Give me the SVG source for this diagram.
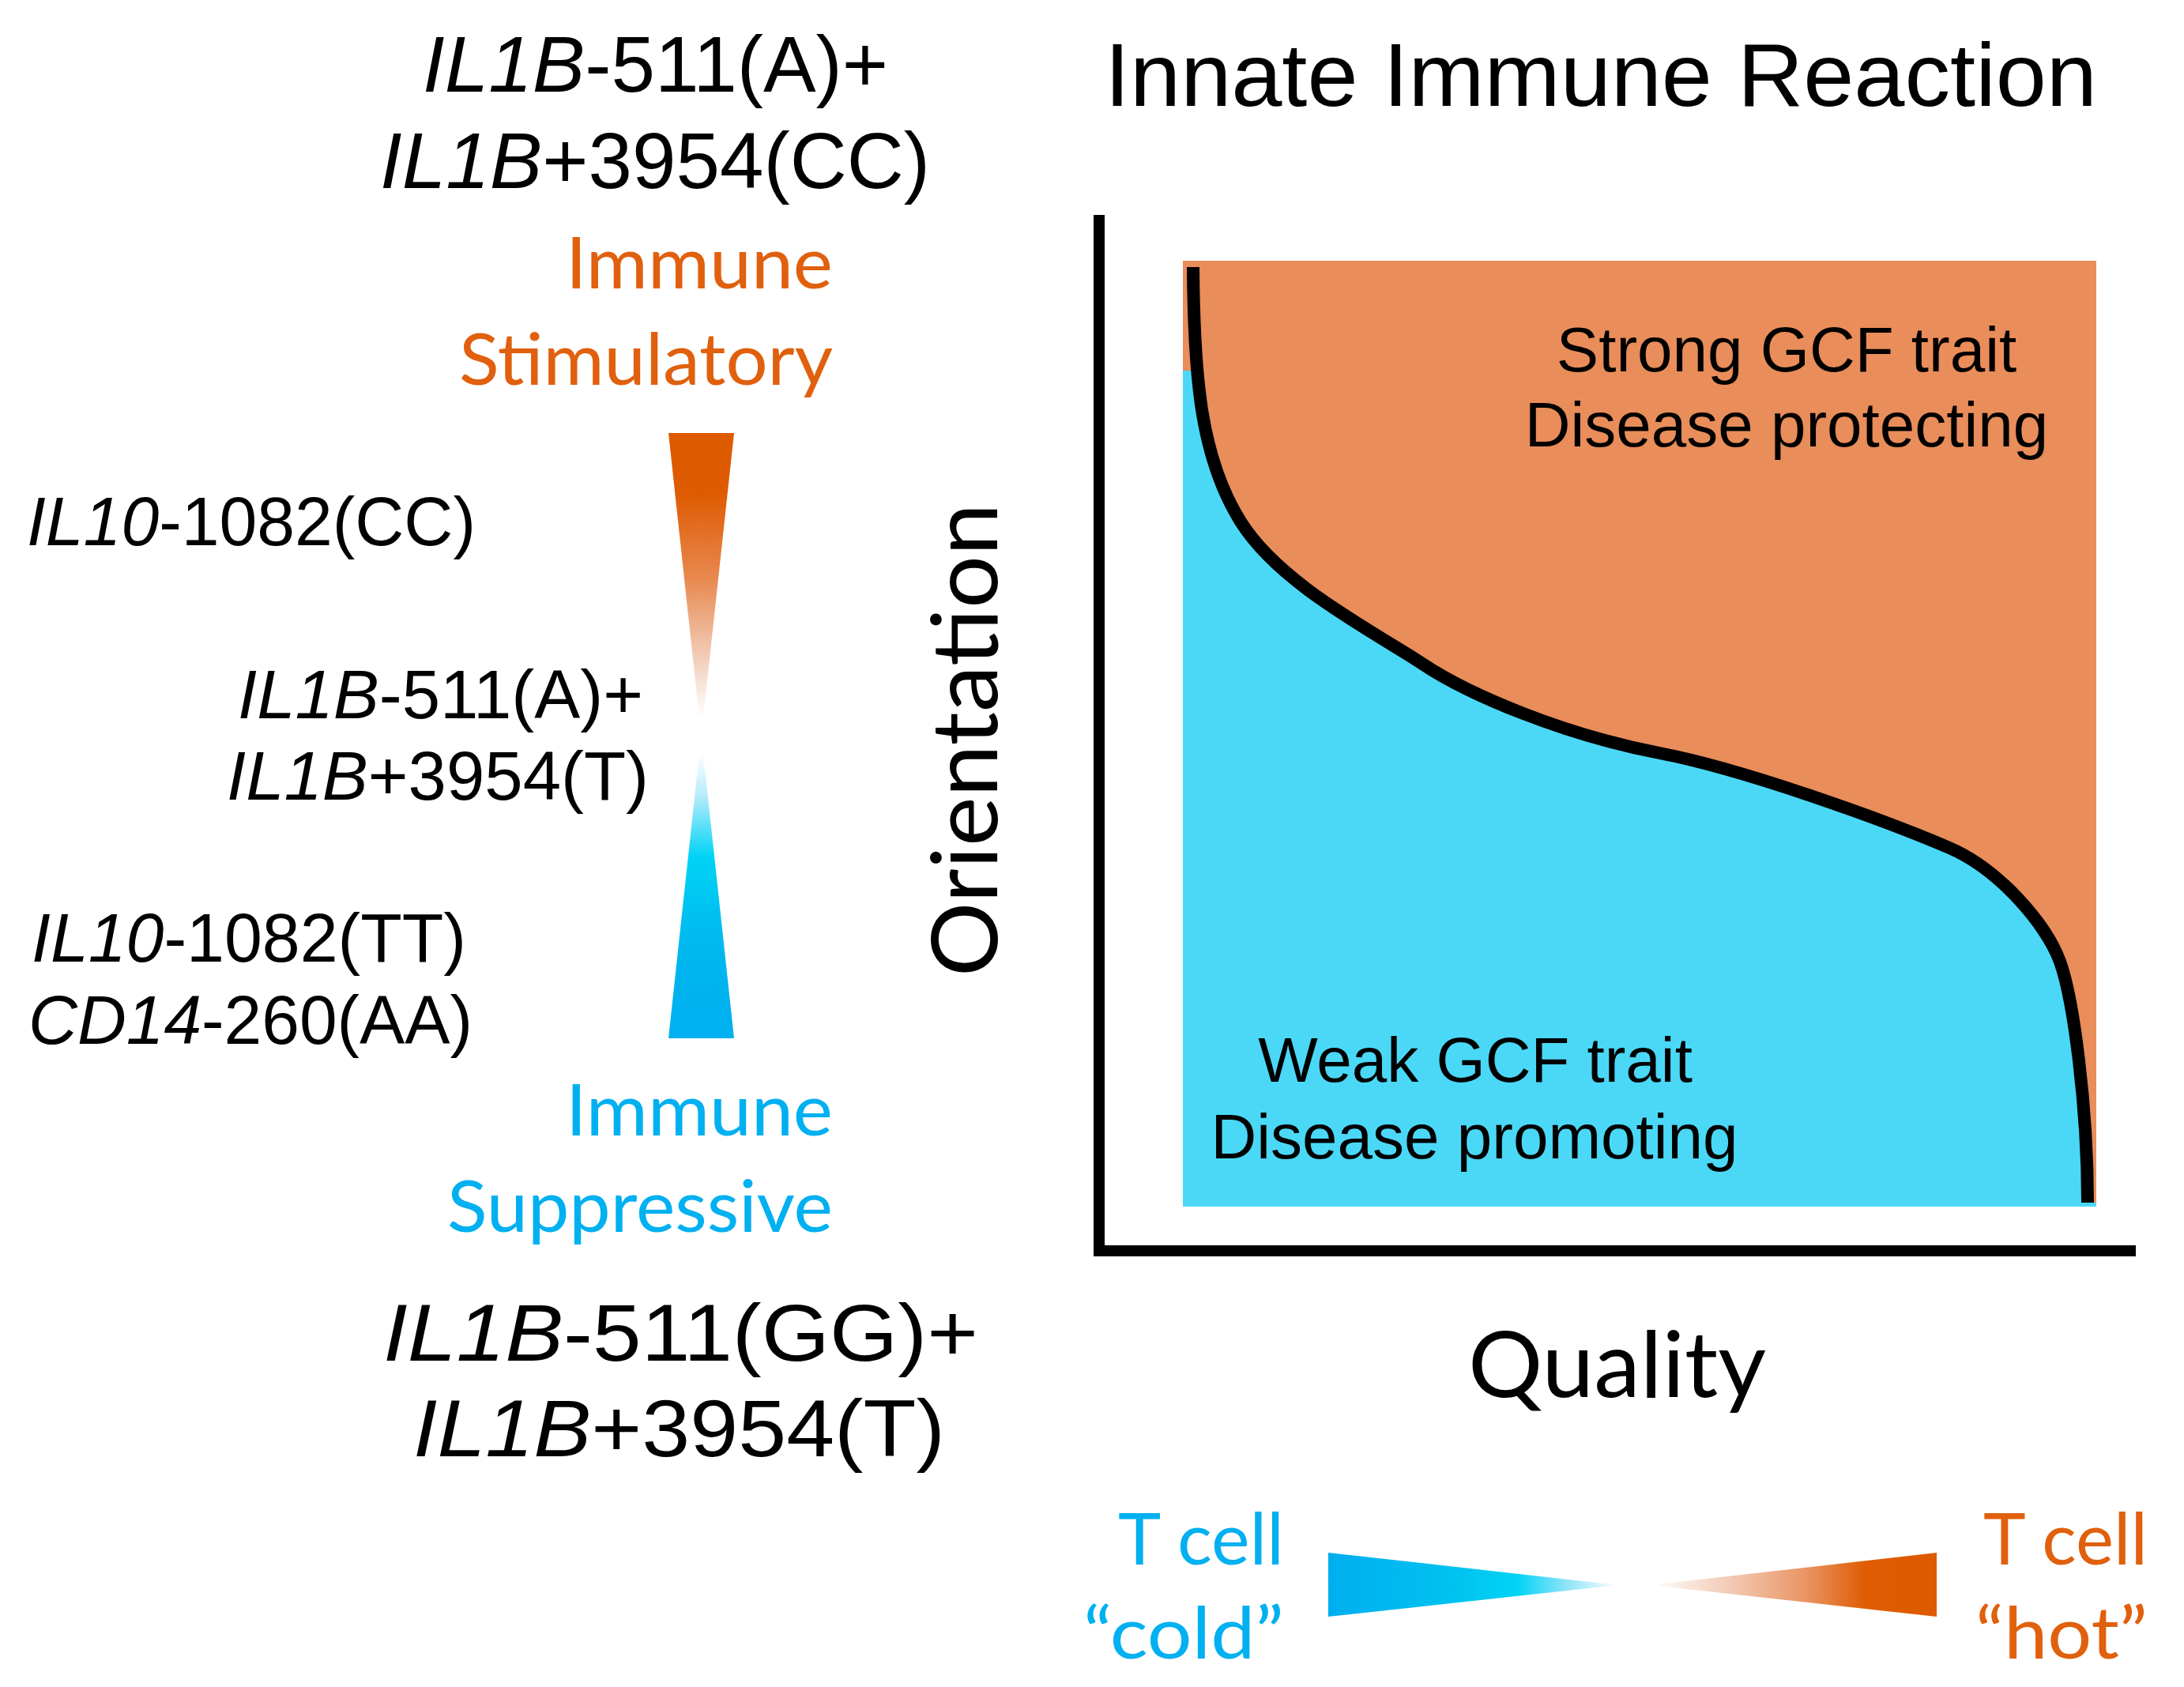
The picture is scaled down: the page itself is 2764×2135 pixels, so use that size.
<svg xmlns="http://www.w3.org/2000/svg" width="2764" height="2135" viewBox="0 0 2764 2135">
<style>
.ar{font-family:"Liberation Sans",Arial,sans-serif;fill:#000}
.it{font-style:italic}
.cb{font-family:Lato,"Open Sans",sans-serif}
.or{fill:#E0600E}
.bl{fill:#00B0F0}
.bk{fill:#000}
</style>
<defs>
<linearGradient id="gv" gradientUnits="userSpaceOnUse" x1="0" y1="548" x2="0" y2="1314">
<stop offset="0" stop-color="#DE5A00"/>
<stop offset="0.10" stop-color="#DF5B02"/>
<stop offset="0.24" stop-color="#E8884F"/>
<stop offset="0.37" stop-color="#F2CDB9"/>
<stop offset="0.47" stop-color="#FFFFFF"/>
<stop offset="0.53" stop-color="#FFFFFF"/>
<stop offset="0.60" stop-color="#B5ECFA"/>
<stop offset="0.70" stop-color="#00D3F5"/>
<stop offset="0.85" stop-color="#00B7EF"/>
<stop offset="1" stop-color="#00AFEF"/>
</linearGradient>
<linearGradient id="gb" gradientUnits="userSpaceOnUse" x1="1681" y1="0" x2="2048" y2="0">
<stop offset="0" stop-color="#00AEEF"/>
<stop offset="0.45" stop-color="#00C3F0"/>
<stop offset="0.65" stop-color="#00D4F5"/>
<stop offset="0.82" stop-color="#8FE3F8"/>
<stop offset="1" stop-color="#FFFFFF"/>
</linearGradient>
<linearGradient id="go" gradientUnits="userSpaceOnUse" x1="2088" y1="0" x2="2451" y2="0">
<stop offset="0" stop-color="#FFFFFF"/>
<stop offset="0.3" stop-color="#F2C6AE"/>
<stop offset="0.55" stop-color="#E99361"/>
<stop offset="0.75" stop-color="#DF5C04"/>
<stop offset="1" stop-color="#DE5A00"/>
</linearGradient>
</defs>
<rect width="2764" height="2135" fill="#FFFFFF"/>

<g id="title">
<text class="ar" x="1398" y="134" font-size="114" textLength="1256" lengthAdjust="spacingAndGlyphs">Innate Immune Reaction</text>
</g>

<g id="genotype-top">
<text class="ar" x="535" y="116" font-size="101" textLength="589" lengthAdjust="spacingAndGlyphs"><tspan class="it">IL1B</tspan>-511(A)+</text>
<text class="ar" x="481" y="238" font-size="101" textLength="696" lengthAdjust="spacingAndGlyphs"><tspan class="it">IL1B</tspan>+3954(CC)</text>
</g>

<g id="label-stimulatory">
<text class="cb or" x="716" y="365" font-size="92" textLength="338" lengthAdjust="spacingAndGlyphs">Immune</text>
<text class="cb or" x="581" y="487" font-size="92" textLength="473" lengthAdjust="spacingAndGlyphs">Stimulatory</text>
</g>

<g id="genotype-il10-cc">
<text class="ar" x="34" y="690" font-size="87" textLength="568" lengthAdjust="spacingAndGlyphs"><tspan class="it">IL10</tspan>-1082(CC)</text>
</g>

<g id="genotype-middle">
<text class="ar" x="301" y="909" font-size="87" textLength="513" lengthAdjust="spacingAndGlyphs"><tspan class="it">IL1B</tspan>-511(A)+</text>
<text class="ar" x="287" y="1012" font-size="87" textLength="534" lengthAdjust="spacingAndGlyphs"><tspan class="it">IL1B</tspan>+3954(T)</text>
</g>

<g id="genotype-il10-tt">
<text class="ar" x="40" y="1217" font-size="87" textLength="550" lengthAdjust="spacingAndGlyphs"><tspan class="it">IL10</tspan>-1082(TT)</text>
<text class="ar" x="36" y="1321" font-size="87" textLength="562" lengthAdjust="spacingAndGlyphs"><tspan class="it">CD14</tspan>-260(AA)</text>
</g>

<g id="gradient-vertical">
<path d="M846,548 H929 L887.5,931 Z M887.5,931 L929,1314 H846 Z" fill="url(#gv)"/>
</g>

<g id="label-suppressive">
<text class="cb bl" x="716" y="1437" font-size="92" textLength="338" lengthAdjust="spacingAndGlyphs">Immune</text>
<text class="cb bl" x="566" y="1559" font-size="92" textLength="488" lengthAdjust="spacingAndGlyphs">Suppressive</text>
</g>

<g id="genotype-bottom">
<text class="ar" x="485" y="1722" font-size="102" textLength="753" lengthAdjust="spacingAndGlyphs"><tspan class="it">IL1B</tspan>-511(GG)+</text>
<text class="ar" x="523" y="1843" font-size="102" textLength="673" lengthAdjust="spacingAndGlyphs"><tspan class="it">IL1B</tspan>+3954(T)</text>
</g>

<g id="chart">
<rect x="1497" y="330" width="1156" height="1197" fill="#4BD8F7"/>
<path fill="#E98D5A" d="M1497,330 H2653 V1522 L2642,1522 C2642,1400 2624,1264 2607,1217 C2590,1170 2530,1100 2467,1073 C2390,1040 2210,974 2100,953 C1980,930 1860,880 1800,840 C1740,800 1620,740 1570,660 C1520,580 1511,480 1510,340 V330 Z M1497,330 H1512 V469 H1497 Z"/>
<path fill="none" stroke="#000" stroke-width="16" d="M1510,338 C1511,480 1520,580 1570,660 C1620,740 1740,800 1800,840 C1860,880 1980,930 2100,953 C2210,974 2390,1040 2467,1073 C2530,1100 2590,1170 2607,1217 C2624,1264 2642,1400 2642,1522"/>
<text class="ar" x="2261" y="470" font-size="80" text-anchor="middle">Strong GCF trait</text>
<text class="ar" x="2261" y="565" font-size="80" text-anchor="middle">Disease protecting</text>
<text class="ar" x="1867" y="1369" font-size="80" text-anchor="middle">Weak GCF trait</text>
<text class="ar" x="1866" y="1466" font-size="80" text-anchor="middle">Disease promoting</text>
</g>

<g id="axes">
<rect x="1384" y="272" width="14" height="1318" fill="#000"/>
<rect x="1384" y="1576" width="1319" height="14" fill="#000"/>
</g>

<g id="axis-label-orientation">
<text class="cb bk" transform="translate(1262,1236) rotate(-90)" x="0" y="0" font-size="116" textLength="599" lengthAdjust="spacingAndGlyphs">Orientation</text>
</g>

<g id="axis-label-quality">
<text class="cb bk" x="1858" y="1768" font-size="116" textLength="377" lengthAdjust="spacingAndGlyphs">Quality</text>
</g>

<g id="tcell-cold">
<text class="cb bl" x="1415" y="1980" font-size="92" textLength="210" lengthAdjust="spacingAndGlyphs">T cell</text>
<text class="cb bl" x="1371" y="2099" font-size="92" textLength="254" lengthAdjust="spacingAndGlyphs">“cold”</text>
</g>

<g id="gradient-horizontal">
<path d="M1681,1965 L2048,2006 L1681,2046 Z" fill="url(#gb)"/>
<path d="M2451,1965 L2088,2006 L2451,2046 Z" fill="url(#go)"/>
</g>

<g id="tcell-hot">
<text class="cb or" x="2510" y="1980" font-size="92" textLength="208" lengthAdjust="spacingAndGlyphs">T cell</text>
<text class="cb or" x="2500" y="2099" font-size="92" textLength="218" lengthAdjust="spacingAndGlyphs">“hot”</text>
</g>
</svg>
